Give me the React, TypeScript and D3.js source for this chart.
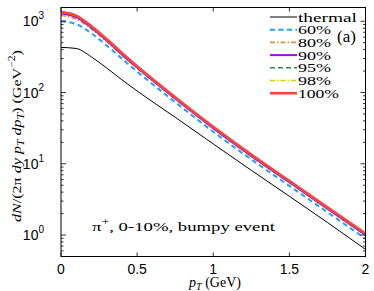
import * as d3 from "d3";

// transverse momentum grid (GeV)
const pT = [0, 0.1, 0.2, 0.3, 0.4, 0.5, 0.75, 1.0, 1.25, 1.5, 1.75, 2.0];

// dN/(2pi dy pT dpT) values
const thermal = [430, 415, 316, 221, 151, 105, 45, 19, 8.1, 3.5, 1.5, 0.63];
const p60 = [1000, 912, 676, 457, 299, 197, 73.3, 28.2, 11.5, 4.9, 2.09, 0.89];
const p80 = [1202, 1072, 776, 519, 335, 219, 81.3, 31.3, 12.7, 5.43, 2.32, 0.99];
const p90 = [1288, 1148, 813, 537, 343, 224, 82.2, 31.6, 12.9, 5.5, 2.34, 1.0];
const p95 = [1318, 1175, 832, 550, 351, 229, 84.1, 32.4, 13.2, 5.62, 2.4, 1.02];
const p98 = [1334, 1189, 841, 556, 355, 231, 85, 32.7, 13.3, 5.69, 2.43, 1.04];
const p100 = [1349, 1202, 851, 562, 359, 234, 86, 33.1, 13.5, 5.75, 2.45, 1.05];

const labels = ["thermal", "60%", "80%", "90%", "95%", "98%", "100%"];
const xTicks = [0, 0.5, 1, 1.5, 2];
const xTickLabels = ["0", "0.5", "1", "1.5", "2"];
const yTicks = [1, 10, 100, 1000];
const yTickExps = ["0", "1", "2", "3"];

const styles = [
  { color: "#000000", width: 1, dash: "" },
  { color: "#1aa3ff", width: 2, dash: "5,3.5" },
  { color: "#d9904e", width: 1.6, dash: "5,2,1.5,2" },
  { color: "#9b10d8", width: 2, dash: "" },
  { color: "#2a8c55", width: 1.6, dash: "5,3" },
  { color: "#d4d400", width: 1.6, dash: "5,2,1.5,2" },
  { color: "#ff4040", width: 2.6, dash: "" },
];

const W = 374;
const H = 291;
const m = { l: 61, r: 8.5, t: 7.5, b: 34.5 };

// measured widths of the legend words in the reference
const legendWidth = (lab: string) => (lab === "thermal" ? 59 : lab === "100%" ? 41 : 33);

export default function App() {
  const series = [thermal, p60, p80, p90, p95, p98, p100];
  const x = d3.scaleLinear().domain([0, 2]).range([m.l, W - m.r]);
  const y = d3.scaleLog().domain([0.5, 1560]).range([H - m.b, m.t]);

  const line = d3
    .line<number>()
    .x((_, i) => x(pT[i]))
    .y((d) => y(d))
    .curve(d3.curveMonotoneX);

  // minor ticks of the log axis
  const minor: number[] = [];
  [0.1, 1, 10, 100, 1000].forEach((dec) => {
    for (let k = 2; k <= 9; k++) {
      const v = dec * k;
      if (v >= 0.5 && v <= 1560) minor.push(v);
    }
  });

  const x0 = x(0);
  const x1 = x(2);
  const y0 = y.range()[0];
  const y1 = y.range()[1];

  return (
    <svg
      width={W}
      height={H}
      style={{ position: "absolute", left: 0, top: 0, background: "#fff" }}
    >
      <defs>
        <clipPath id="plot">
          <rect x={x0} y={y1} width={x1 - x0} height={y0 - y1} />
        </clipPath>
      </defs>

      <g clipPath="url(#plot)">
        {series.map((s, i) => (
          <path
            key={labels[i]}
            d={line(s) || ""}
            fill="none"
            stroke={styles[i].color}
            strokeWidth={styles[i].width}
            strokeDasharray={styles[i].dash}
          />
        ))}
      </g>

      {/* ticks */}
      <g stroke="#000" strokeWidth={0.8}>
        {yTicks.map((t) => (
          <g key={"yt" + t}>
            <line x1={x0} x2={x0 + 5} y1={y(t)} y2={y(t)} />
            <line x1={x1} x2={x1 - 5} y1={y(t)} y2={y(t)} />
          </g>
        ))}
        {minor.map((t) => (
          <g key={"ym" + t}>
            <line x1={x0} x2={x0 + 2.5} y1={y(t)} y2={y(t)} />
            <line x1={x1} x2={x1 - 2.5} y1={y(t)} y2={y(t)} />
          </g>
        ))}
        {xTicks.map((t) => (
          <g key={"xt" + t}>
            <line x1={x(t)} x2={x(t)} y1={y0} y2={y0 - 4} />
            <line x1={x(t)} x2={x(t)} y1={y1} y2={y1 + 4} />
          </g>
        ))}
      </g>

      <rect
        x={x0}
        y={y1}
        width={x1 - x0}
        height={y0 - y1}
        fill="none"
        stroke="#000"
        strokeWidth={1}
      />

      {/* tick labels */}
      <g fontFamily="Liberation Sans, Arial, sans-serif" fill="#000">
        {xTicks.map((t, i) => (
          <text key={"xl" + t} x={x(t)} y={y0 + 17} fontSize={14} textAnchor="middle">
            {xTickLabels[i]}
          </text>
        ))}
        {yTicks.map((t, i) => (
          <text key={"yl" + t} x={x0 - 17} y={y(t) + 5} fontSize={14} textAnchor="end">
            10
            <tspan fontSize={10} dy={-7}>
              {yTickExps[i]}
            </tspan>
          </text>
        ))}
      </g>

      {/* axis titles */}
      <g fontFamily="Liberation Serif, Times New Roman, serif" fill="#000">
        <text x={215} y={287} fontSize={14} textAnchor="middle">
          <tspan fontStyle="italic">p</tspan>
          <tspan fontStyle="italic" fontSize={10} dy={3}>T</tspan>
          <tspan dy={-3}> (GeV)</tspan>
        </text>
        <text
          transform={`translate(21,${(y0 + y1) / 2 + 4}) rotate(-90)`}
          fontSize={13}
          textAnchor="middle"
          textLength={172}
          lengthAdjust="spacingAndGlyphs"
        >
          <tspan fontStyle="italic">dN</tspan>
          <tspan>/(2π </tspan>
          <tspan fontStyle="italic">dy p</tspan>
          <tspan fontStyle="italic" fontSize={9.5} dy={3}>T</tspan>
          <tspan fontStyle="italic" dy={-3}> dp</tspan>
          <tspan fontStyle="italic" fontSize={9.5} dy={3}>T</tspan>
          <tspan dy={-3}>) (GeV</tspan>
          <tspan fontSize={9.5} dy={-6}>−2</tspan>
          <tspan dy={6}>)</tspan>
        </text>

        <text x={92} y={231} fontSize={13.5} textLength={183} lengthAdjust="spacingAndGlyphs">
          π<tspan fontSize={10} dy={-6}>+</tspan>
          <tspan dy={6}>, 0-10%, bumpy event</tspan>
        </text>

        <text x={337} y={42} fontSize={17}>
          (a)
        </text>
      </g>

      {/* legend */}
      <g fontFamily="Liberation Serif, Times New Roman, serif" fontSize={12.5} fill="#000">
        {labels.map((lab, i) => {
          const ly = 17 + i * 12.7;
          return (
            <g key={"lg" + lab}>
              <line
                x1={270}
                x2={297}
                y1={ly}
                y2={ly}
                stroke={styles[i].color}
                strokeWidth={styles[i].width}
                strokeDasharray={styles[i].dash}
              />
              <text
                x={298}
                y={ly + 4.5}
                textLength={legendWidth(lab)}
                lengthAdjust="spacingAndGlyphs"
              >
                {lab}
              </text>
            </g>
          );
        })}
      </g>
    </svg>
  );
}
